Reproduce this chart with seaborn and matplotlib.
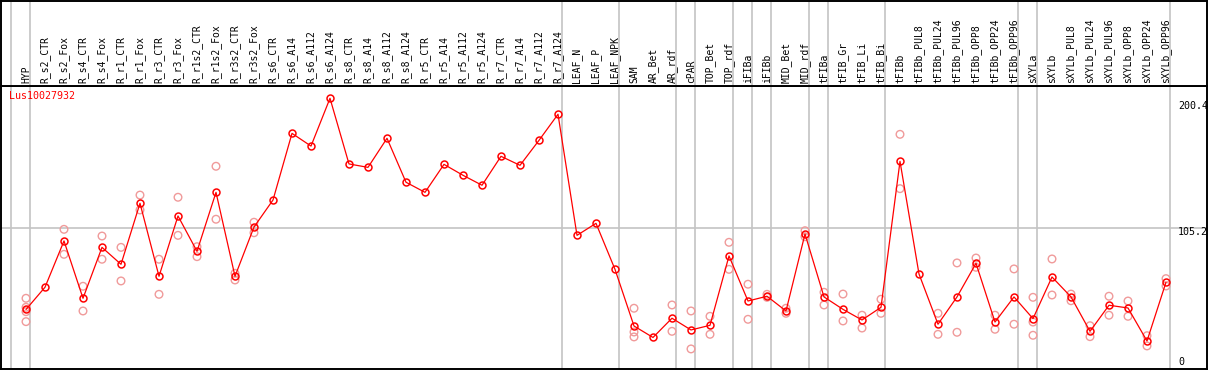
import pandas as pd
import matplotlib
matplotlib.use('Agg')
import matplotlib.pyplot as plt
import seaborn as sns

# sample names, in plot order
samples = ['HYP', 'R_s2_CTR', 'R_s2_Fox', 'R_s4_CTR', 'R_s4_Fox', 'R_r1_CTR', 'R_r1_Fox',
           'R_r3_CTR', 'R_r3_Fox', 'R_r1s2_CTR', 'R_r1s2_Fox', 'R_r3s2_CTR', 'R_r3s2_Fox',
           'R_s6_CTR', 'R_s6_A14', 'R_s6_A112', 'R_s6_A124', 'R_s8_CTR', 'R_s8_A14',
           'R_s8_A112', 'R_s8_A124', 'R_r5_CTR', 'R_r5_A14', 'R_r5_A112', 'R_r5_A124',
           'R_r7_CTR', 'R_r7_A14', 'R_r7_A112', 'R_r7_A124', 'LEAF_N', 'LEAF_P', 'LEAF_NPK',
           'SAM', 'AR_Bet', 'AR_rdf', 'cPAR', 'TOP_Bet', 'TOP_rdf', 'iFIBa', 'iFIBb',
           'MID_Bet', 'MID_rdf', 'tFIBa', 'tFIB_Gr', 'tFIB_Li', 'tFIB_Bi', 'tFIBb',
           'tFIBb_PUL8', 'tFIBb_PUL24', 'tFIBb_PUL96', 'tFIBb_OPP8', 'tFIBb_OPP24',
           'tFIBb_OPP96', 'sXYLa', 'sXYLb', 'sXYLb_PUL8', 'sXYLb_PUL24', 'sXYLb_PUL96',
           'sXYLb_OPP8', 'sXYLb_OPP24', 'sXYLb_OPP96']

# mean expression per sample
means = [45.7, 62.0, 95.9, 53.9, 91.2, 78.8, 123.5, 70.0, 114.2, 88.3, 131.5, 70.0, 106.1,
         125.9, 174.7, 165.4, 200.4, 152.3, 149.8, 171.1, 138.9, 131.5, 152.0, 144.0, 136.7,
         157.9, 151.3, 169.6, 188.7, 100.0, 108.8, 75.1,
         33.6, 25.2, 39.3, 30.7, 34.1, 84.9, 51.9, 55.4, 44.6, 101.0, 54.9, 45.8, 38.0, 47.3,
         154.2, 71.7, 34.9, 54.9, 79.5, 36.5, 54.9, 39.0, 69.5, 54.9, 29.7, 48.8, 46.8, 22.6,
         65.6]

# replicate values (empty when not shown)
reps = [[53.9, 47.3, 44.1, 36.8], [], [104.4, 86.1], [62.7, 44.6], [99.5, 82.5],
        [91.2, 66.6], [129.5, 118.6], [82.5, 56.8], [127.9, 100.0], [91.7, 84.4],
        [150.6, 111.8], [72.2, 67.3], [109.6, 101.9],
        [], [], [], [], [], [], [], [], [], [], [], [], [], [], [], [], [], [], [],
        [46.6, 29.2, 25.6], [], [49.0, 29.7], [44.6, 16.8], [40.7, 27.5], [94.9, 75.1],
        [64.2, 38.5], [56.8, 54.6], [46.6, 42.9], [103.4, 99.0], [58.3, 49.0], [57.0, 37.3],
        [41.5, 32.1], [53.2, 42.9], [174.0, 134.2], [], [42.9, 27.5], [79.8, 29.0],
        [83.4, 76.6], [41.5, 31.2], [75.4, 34.9], [54.6, 36.5, 26.8], [82.7, 56.3],
        [57.0, 52.1], [33.8, 25.8], [55.4, 41.5], [51.9, 40.7], [26.5, 19.0], [68.3, 62.9]]

# last sample of each group (separator lines), -1 = left edge
group_ends = [-1, 0, 28, 31, 34, 35, 37, 38, 39, 41, 42, 45, 52, 53, 60]

gene = 'Lus10027932'
axis_labels = [200.4, 105.2, 0]

df = pd.DataFrame({'pos': range(len(samples)), 'sample': samples, 'mean': means})
rep_df = pd.DataFrame([(i, v) for i, vals in enumerate(reps) for v in vals],
                      columns=['pos', 'value'])

sns.set_style('white')
plt.rcParams['font.family'] = ['DejaVu Sans Mono']

W, H = 1209, 370


def box(x0, y0, x1, y1):
    return [x0 / W, 1 - y1 / H, (x1 - x0) / W, (y1 - y0) / H]


fig = plt.figure(figsize=(W / 100, H / 100), dpi=100)
ax = fig.add_axes(box(1, 86, 1207, 369))
hx = fig.add_axes(box(1, 1, 1207, 86), sharex=ax)

xmin, xmax = (1 - 26) / 19, (1207 - 26) / 19
ax.set_xlim(xmin, xmax)
ax.set_ylim(2.1, 209.4)
hx.set_ylim(0, 1)

for a in (ax, hx):
    for g in group_ends:
        a.axvline(g + 0.23, color='#c4c4c4', lw=1.2, zorder=0)
    a.set_xticks([])
    a.set_yticks([])
    a.set_xlabel('')
    a.set_ylabel('')
    for s in a.spines.values():
        s.set_color('black')
        s.set_linewidth(1.4)

ax.axhline(105.2, color='#c4c4c4', lw=1.2, zorder=0)

sns.scatterplot(data=rep_df, x='pos', y='value', ax=ax, marker='o', s=30,
                facecolor='none', edgecolor='#f09a9a', linewidth=1.0, zorder=2)
sns.lineplot(data=df, x='pos', y='mean', ax=ax, color='red', lw=0.9,
             marker='o', markersize=5, markerfacecolor='none',
             markeredgecolor='red', markeredgewidth=1.1, zorder=3)
ax.set_xlabel('')
ax.set_ylabel('')
ax.set_xticks([])
ax.set_yticks([])

for i, name in enumerate(samples):
    hx.text(i, 0.035, name, rotation=90, ha='center', va='bottom',
            fontsize=7, color='black')

ax.text(8 / 1206, 0.965, gene, transform=ax.transAxes, color='red',
        fontsize=7.2, ha='left', va='center')

offsets = [-8, -3.5, 10]
for val, off in zip(axis_labels, offsets):
    ax.annotate(f'{val:g}', xy=((1178 - 26) / 19, val), xytext=(0, off),
                textcoords='offset pixels', ha='left', va='center',
                fontsize=7.2, color='black', annotation_clip=False)

fig.savefig('out.png', dpi=100)
